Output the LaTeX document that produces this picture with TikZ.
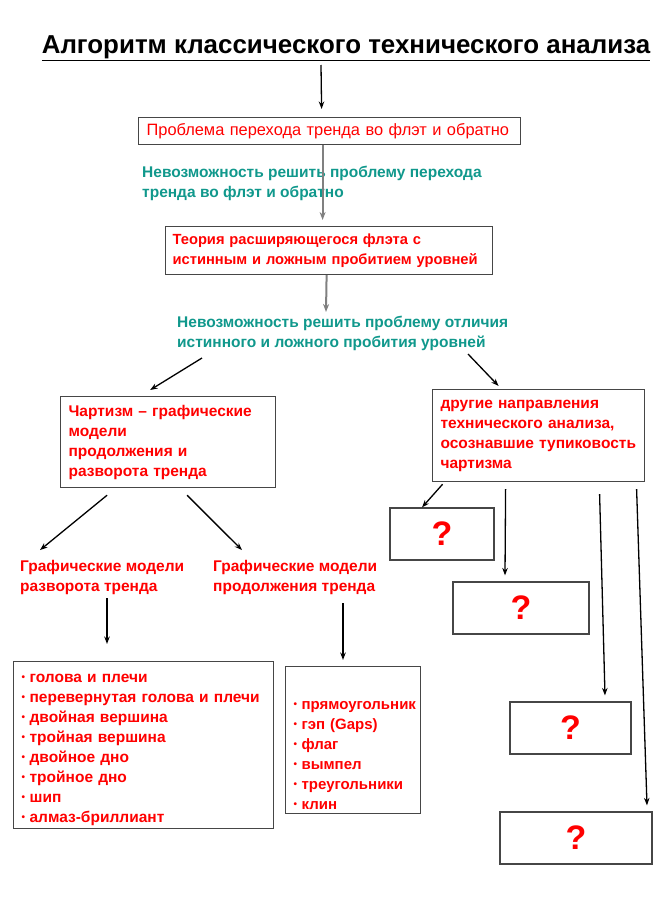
\documentclass[tikz,border=0pt]{standalone}
\usepackage{fontspec}
\setmainfont{Liberation Sans}
\usetikzlibrary{arrows.meta}
\definecolor{tealc}{RGB}{16,152,140}
\definecolor{boxc}{RGB}{70,70,70}
\definecolor{redc}{RGB}{255,0,0}
\newcommand{\itm}{\makebox[8pt][l]{\raisebox{0.12em}{\fontsize{10}{10}\selectfont •}}}
\begin{document}
\begin{tikzpicture}[x=1pt,y=-1pt,
  box/.style={draw=boxc, line width=1.2pt, align=left, inner xsep=8pt, inner ysep=0pt, anchor=north west, text=redc, font=\bfseries\fontsize{15.5}{20}\selectfont},
  qbox/.style={draw=boxc, line width=1.2pt, inner sep=0pt, minimum height=52pt, text=redc, font=\bfseries\fontsize{34}{34}\selectfont},
  tealtxt/.style={align=left, inner sep=0pt, anchor=base west, text=tealc, font=\bfseries\fontsize{15.5}{19.5}\selectfont},
  redtxt/.style={align=left, inner sep=0pt, anchor=base west, text=redc, font=\bfseries\fontsize{15.5}{19.5}\selectfont},
  blk/.style={-{Stealth[length=7.5pt,width=5.5pt]}, line width=1.3pt, draw=black},
  gry/.style={-{Stealth[length=8pt,width=6pt]}, line width=2pt, draw=gray}
]
\useasboundingbox (0,0) rectangle (665,924);

\node[anchor=base, inner sep=0pt, font=\bfseries\fontsize{25.9}{28}\selectfont] (title) at (346,53) {\underline{Алгоритм классического технического анализа}};

\node[box, font=\fontsize{16.4}{18}\selectfont, text width=366pt, minimum height=27pt] (b1) at (138,117) {Проблема перехода тренда во флэт и обратно};

\node[tealtxt] (t1) at (142,197) {Невозможность решить проблему перехода\\тренда во флэт и обратно};

\node[box, inner xsep=7pt, text width=313pt, minimum height=48pt, font=\bfseries\fontsize{14.7}{20}\selectfont] (b2) at (165,226) {Теория расширяющегося флэта с\\истинным и ложным пробитием уровней};

\node[tealtxt] (t2) at (177,347) {Невозможность решить проблему отличия\\истинного и ложного пробития уровней};

\node[box, text width=199pt, minimum height=91pt] (chart) at (60,396) {Чартизм – графические\\модели\\продолжения и\\разворота тренда};

\node[box, text width=196pt, minimum height=92pt] (other) at (432,389) {другие направления\\технического анализа,\\осознавшие тупиковость\\чартизма};

\node[redtxt] (gl) at (20,591) {Графические модели\\разворота тренда};
\node[redtxt] (gr) at (213,591) {Графические модели\\продолжения тренда};

\node[box, text width=244pt, minimum height=167pt] (listL) at (13,661) {\rule{0pt}{17pt}\itm голова и плечи\\\itm перевернутая голова и плечи\\\itm двойная вершина\\\itm тройная вершина\\\itm двойное дно\\\itm тройное дно\\\itm шип\\\itm алмаз-бриллиант};

\node[box, text width=119pt, minimum height=147pt, font=\bfseries\fontsize{15}{20}\selectfont] (listR) at (285,666) {\rule{0pt}{38pt}\itm прямоугольник\\\itm гэп (Gaps)\\\itm флаг\\\itm вымпел\\\itm треугольники\\\itm клин};

\node[qbox, minimum width=104pt] (q1) at (442,534) {?};
\node[qbox, minimum width=136pt] (q2) at (521,608) {?};
\node[qbox, minimum width=121pt] (q3) at (570.5,728) {?};
\node[qbox, minimum width=152pt] (q4) at (576,838) {?};

% connectors
\coordinate (a1s) at (321,65);
\draw[blk] (a1s) -- ([xshift=-8pt,yshift=8pt]b1.north);
\draw[gry] ([xshift=-7pt]b1.south) -- ([xshift=-6.5pt,yshift=6pt]b2.north);
\coordinate (a3e) at (326,312);
\draw[gry] ([xshift=-2.5pt]b2.south) -- (a3e);
\coordinate (a4s) at (202,358);
\draw[blk] (a4s) -- ([xshift=-18pt,yshift=6pt]chart.north);
\coordinate (a5s) at (468,354);
\draw[blk] (a5s) -- ([xshift=-40pt,yshift=3pt]other.north);
\draw[blk] ([xshift=-61pt,yshift=-7pt]chart.south) -- ([xshift=20pt,yshift=10pt]gl.north west);
\draw[blk] ([xshift=19pt,yshift=-7pt]chart.south) -- ([xshift=29pt,yshift=10pt]gr.north west);
\coordinate (a8s) at (107,598);
\draw[blk] (a8s) -- ([xshift=94pt,yshift=17pt]listL.north west);
\coordinate (a9s) at (343,603);
\draw[blk] (a9s) -- ([xshift=58pt,yshift=6pt]listR.north west);
\draw[blk] ([xshift=-96pt,yshift=-2pt]other.south) -- ([xshift=-20pt]q1.north);
\draw[blk] ([xshift=-33pt,yshift=-7pt]other.south) -- ([xshift=-16pt,yshift=6pt]q2.north);
\draw[blk] ([xshift=61pt,yshift=-12pt]other.south) -- ([xshift=34.5pt,yshift=6pt]q3.north);
\draw[blk] ([xshift=98pt,yshift=-7pt]other.south) -- ([xshift=71pt,yshift=6pt]q4.north);
\end{tikzpicture}
\end{document}
